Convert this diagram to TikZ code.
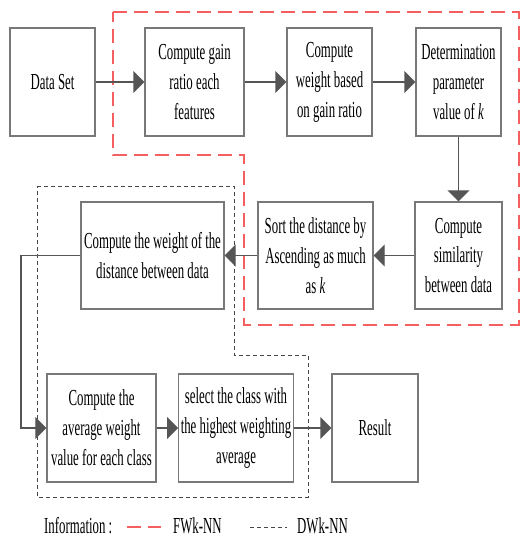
\documentclass[tikz,border=0pt]{standalone}
\usepackage{fontspec}
\setmainfont{Liberation Serif}[FakeStretch=0.56]
\usetikzlibrary{arrows.meta}
\definecolor{boxgray}{RGB}{120,120,120}
\definecolor{linegray}{RGB}{85,85,85}
\definecolor{fwred}{RGB}{245,95,95}
\definecolor{dwgray}{RGB}{70,70,70}

\begin{document}
\begin{tikzpicture}[x=1bp, y=-1bp,
  box/.style={draw=boxgray, line width=1.3bp, minimum width=85bp,
    minimum height=108bp, inner sep=2bp, align=center,
    font=\fontsize{23}{30}\selectfont},
  flow/.style={draw=linegray, line width=1.3bp,
    -{Triangle[length=11bp, width=22bp]}},
  fwk/.style={draw=fwred, line width=1.4bp, dash pattern=on 14bp off 7bp},
  dwk/.style={draw=dwgray, line width=0.9bp, dash pattern=on 4bp off 3bp},
  legend/.style={font=\fontsize{23}{30}\selectfont, inner sep=0pt},
]
  \useasboundingbox (0,0) rectangle (520,541);

  % the two method regions
  \draw[fwk] (113,12) -- (519,12) -- (519,325) -- (244,325) -- (244,155)
    -- (113,155) -- cycle;
  \draw[dwk] (37,186) -- (234,186) -- (234,355) -- (308,355) -- (308,497)
    -- (37,497) -- cycle;

  \node[box] (data) at (52.5,82) {Data Set};
  \node[box, minimum width=99bp] (gain) at (194.5,82) {Compute gain\\ratio each\\features};
  \node[box] (wgt) at (329.5,82) {Compute\\weight based\\on gain ratio};
  \node[box] (det) at (458.5,82) {Determination\\parameter\\value of \textit{k}};

  \node[box, minimum width=87bp, minimum height=107bp] (sim) at (458.5,255.5) {Compute\\similarity\\between data};
  \node[box, minimum width=115bp, minimum height=107bp] (sort) at (315.5,255.5) {Sort the distance by\\Ascending as much\\as \textit{k}};
  \node[box, minimum width=143bp, minimum height=107bp] (dist) at (152.5,255.5) {Compute the weight of the\\distance between data};

  \node[box, minimum width=109bp] (avg) at (101.5,428) {Compute the\\average weight\\value for each class};
  \node[box, minimum width=114bp] (sel) at (236,428) {select the class with\\the highest weighting\\average};
  \node[box, minimum width=86bp] (res) at (375,428) {Result};

  \draw[flow] (data) -- (gain);
  \draw[flow] (gain) -- (wgt);
  \draw[flow] (wgt) -- (det);
  \draw[flow] (det) -- (sim);
  \draw[flow] (sim) -- (sort);
  \draw[flow] (sort) -- (dist);
  \coordinate (turn) at (21,255.5);
  \draw[flow] (dist.west) -- (turn) |- (avg.west);
  \draw[flow] (avg) -- (sel);
  \draw[flow] (sel) -- (res);

  % legend
  \node[legend, anchor=west] (info) at (44,526) {Information :};
  \draw[fwk] (127,527) -- (161,527);
  \node[legend, anchor=west] (fwlbl) at (173,526) {FWk-NN};
  \draw[dwk] (250,527) -- (287,527);
  \node[legend, anchor=west] (dwlbl) at (297,526) {DWk-NN};
\end{tikzpicture}
\end{document}
